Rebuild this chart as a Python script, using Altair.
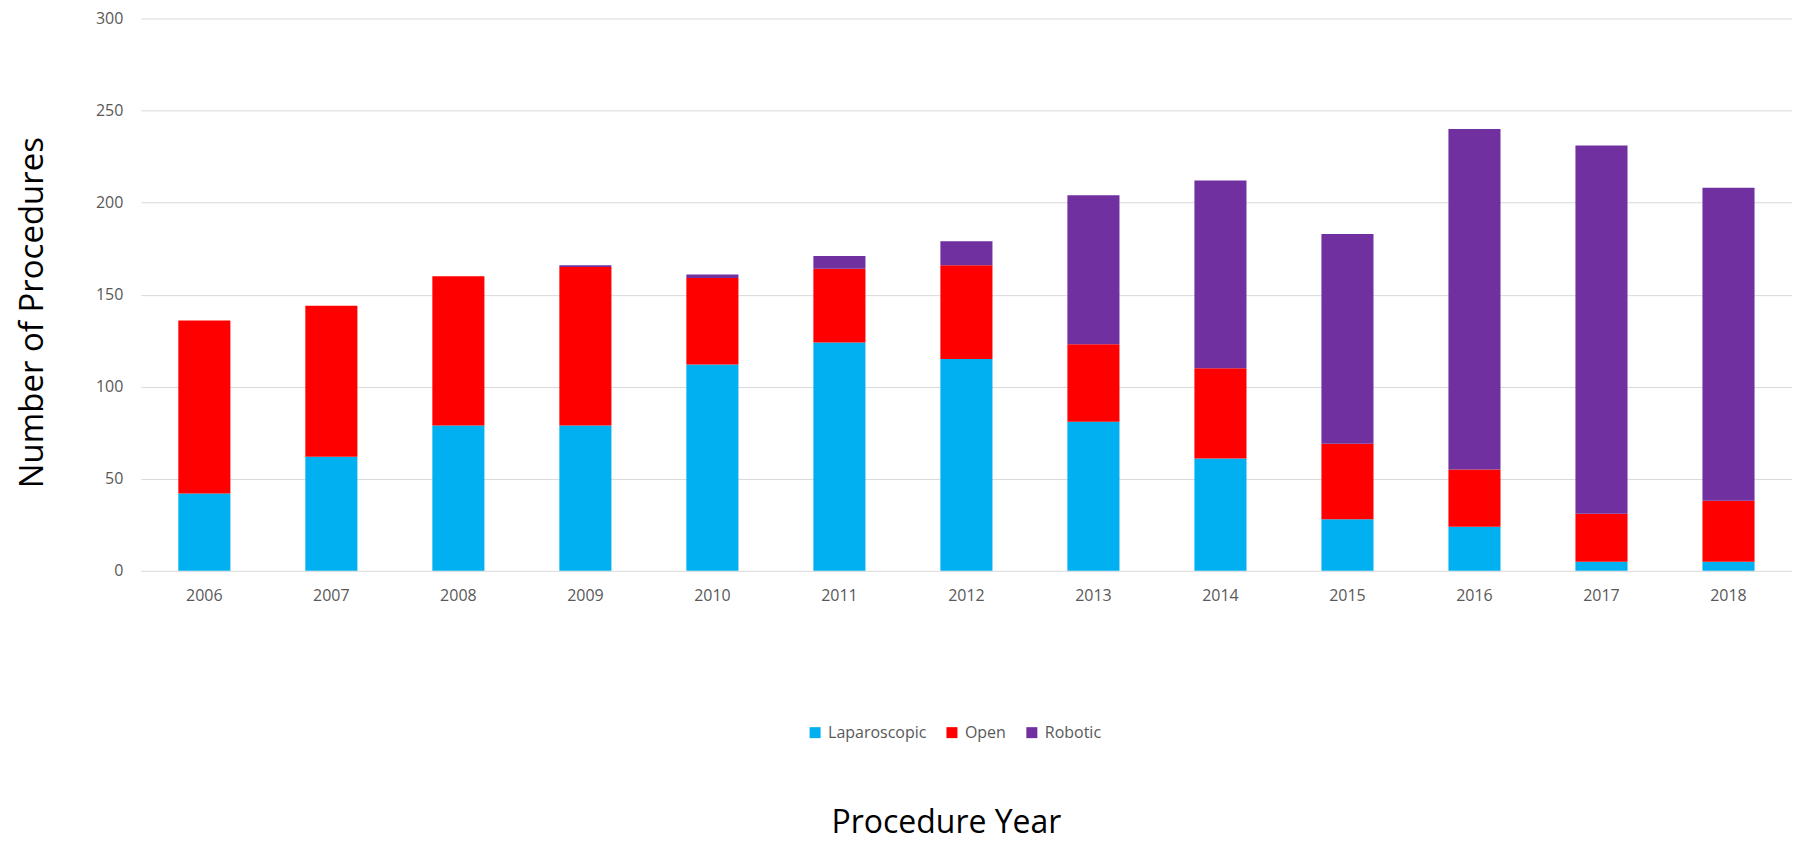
import altair as alt
import pandas as pd

years = ["2006", "2007", "2008", "2009", "2010", "2011", "2012",
         "2013", "2014", "2015", "2016", "2017", "2018"]
laparoscopic = [42, 62, 79, 79, 112, 124, 115, 81, 61, 28, 24, 5, 5]
open_ = [94, 82, 81, 86, 47, 40, 51, 42, 49, 41, 31, 26, 33]
robotic = [0, 0, 0, 1, 2, 7, 13, 81, 102, 114, 185, 200, 170]

series = ["Laparoscopic", "Open", "Robotic"]
colors = ["#00B0F0", "#FF0000", "#7030A0"]

rows = []
for i, y in enumerate(years):
    for k, (name, vals) in enumerate(zip(series, [laparoscopic, open_, robotic])):
        rows.append({"year": y, "type": name, "value": vals[i], "idx": k})
df = pd.DataFrame(rows)

FONT = "Open Sans"

chart = alt.Chart(df).mark_bar().encode(
    x=alt.X("year:N", sort=years,
            scale=alt.Scale(paddingInner=0.59, paddingOuter=0.295),
            axis=alt.Axis(title="Procedure Year", labelAngle=0, ticks=False, domain=False,
                          labelFont=FONT, labelFontSize=16, labelColor="#595959",
                          labelPadding=17, titleFont=FONT, titleFontSize=32,
                          titleFontWeight="normal", titleColor="#000000",
                          titleX=806, titleY=252, titleBaseline="middle",
                          titleAnchor="start", titleAlign="center")),
    y=alt.Y("value:Q", stack="zero",
            scale=alt.Scale(domain=[0, 300]),
            axis=alt.Axis(title="Number of Procedures", values=[0, 50, 100, 150, 200, 250, 300],
                          ticks=False, domain=False, gridColor="#D9D9D9", gridWidth=1,
                          labelFont=FONT, labelFontSize=16, labelColor="#595959",
                          labelPadding=18, titleFont=FONT, titleFontSize=33,
                          titleFontWeight="normal", titleColor="#000000",
                          titleX=-108, titleY=294, titleAngle=-90,
                          titleAlign="center", titleBaseline="middle")),
    color=alt.Color("type:N", sort=series,
                    scale=alt.Scale(domain=series, range=colors),
                    legend=alt.Legend(title=None, orient="none", direction="horizontal",
                                      legendX=667, legendY=707, symbolType="square",
                                      symbolSize=121, symbolStrokeWidth=0,
                                      labelFont=FONT, labelFontSize=16, labelColor="#595959",
                                      labelOffset=5, columnPadding=17)),
    order=alt.Order("idx:Q", sort="ascending"),
).properties(
    width=1653, height=553,
    autosize=alt.AutoSizeParams(type="none"),
    padding={"left": 133, "top": 10, "right": 0, "bottom": 270},
).configure_view(stroke=None)

chart.save("out.html", embed_options={"renderer": "svg", "actions": False})
